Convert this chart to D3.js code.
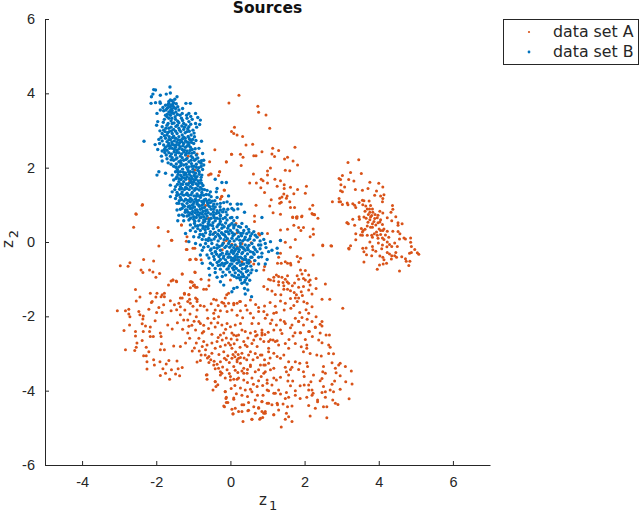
<!DOCTYPE html>
<html>
<head>
<meta charset="utf-8">
<script src="https://cdn.jsdelivr.net/npm/d3@7"></script>
<style>
  html, body { margin: 0; padding: 0; background: #fff; }
  svg { display: block; font-family: "DejaVu Sans", sans-serif; }
  .tick text { font-size: 14.5px; fill: #262626; }
</style>
</head>
<body>
<svg id="chart" width="640" height="515"></svg>
<script>
// Tick labels
const xTicks = [-4, -2, 0, 2, 4, 6];
const yTicks = [-6, -4, -2, 0, 2, 4, 6];

// Legend entries
const seriesNames = ['data set A', 'data set B'];
const seriesColors = ['#D95319', '#0072BD'];

// Points, [z1, z2]
const clusterRight = [[3.46,2.21],[3.17,2.14],[3.24,1.87],[3.53,1.84],[3.02,1.79],[2.93,1.71],[2.97,1.68],[3.19,1.68],[3.33,1.64],[3.76,1.61],[4.0,1.58],[2.98,1.54],[3.08,1.48],[4.11,1.48],[3.37,1.41],[3.56,1.39],[3.71,1.44],[2.97,1.38],[3.02,1.35],[3.94,1.37],[4.14,1.27],[3.89,1.26],[4.05,1.24],[4.11,1.17],[4.10,1.08],[2.75,1.08],[2.93,1.17],[2.93,1.08],[2.97,1.08],[3.02,1.01],[3.15,1.05],[3.17,1.0],[3.30,1.03],[3.35,0.99],[3.38,0.93],[3.47,1.06],[3.56,1.12],[3.6,1.11],[3.57,1.0],[3.65,0.97],[3.74,1.1],[3.78,0.98],[3.69,0.89],[3.75,0.89],[3.83,0.89],[3.76,0.8],[3.84,0.8],[4.03,0.83],[4.11,0.78],[3.98,0.72],[3.9,0.74],[4.37,0.98],[4.38,0.88],[4.33,0.8],[4.46,0.68],[4.35,0.57],[4.23,0.65],[3.47,0.68],[3.48,0.61],[3.6,0.67],[3.66,0.64],[3.78,0.67],[3.76,0.6],[3.87,0.55],[3.96,0.65],[4.05,0.6],[4.03,0.54],[3.3,0.61],[3.15,0.52],[3.18,0.49],[3.35,0.45],[3.53,0.36],[3.58,0.31],[3.63,0.34],[3.56,0.27],[3.78,0.4],[3.83,0.4],[3.92,0.46],[3.98,0.52],[4.1,0.47],[4.14,0.35],[4.01,0.35],[4.05,0.31],[4.11,0.31],[4.23,0.29],[4.38,0.29],[4.52,0.52],[4.52,0.45],[4.63,0.49],[4.52,0.28],[4.57,0.22],[4.56,0.08],[4.68,0.11],[4.72,0.08],[4.86,0.11],[4.86,-0.01],[4.88,-0.12],[4.97,-0.2],[5.04,-0.29],[5.08,-0.33],[4.88,-0.28],[4.83,-0.3],[3.38,0.22],[3.38,0.06],[3.51,0.19],[3.56,0.18],[3.69,0.18],[3.81,0.18],[3.83,0.13],[3.96,0.18],[3.98,0.1],[4.1,0.11],[4.14,0.07],[3.76,0.0],[3.99,-0.03],[4.1,-0.08],[4.23,0.0],[4.29,-0.07],[4.35,-0.12],[4.43,-0.03],[4.5,-0.12],[3.24,-0.1],[3.2,-0.19],[3.57,-0.17],[3.6,-0.26],[3.66,-0.16],[3.83,-0.12],[3.84,-0.21],[3.92,-0.25],[3.67,-0.34],[3.81,-0.37],[4.03,-0.38],[4.11,-0.41],[4.14,-0.48],[4.23,-0.28],[4.29,-0.32],[4.35,-0.37],[4.46,-0.28],[4.43,-0.37],[4.48,-0.41],[4.34,-0.46],[4.62,-0.4],[4.72,-0.45],[4.74,-0.52],[4.84,-0.52],[3.6,-0.54],[4.12,-0.59],[4.02,-0.62],[4.21,-0.57],[3.96,-0.73],[4.56,-0.78],[4.81,-0.63],[2.49,-0.1],[2.73,-0.11]];

const clusterUpper = [[0.23,3.95],[-0.04,3.74],[0.74,3.65],[0.76,3.49],[0.96,3.42],[0.11,3.09],[1.06,3.06],[0.03,2.97],[0.09,2.92],[0.18,2.88],[0.33,2.84],[0.42,2.61],[0.6,2.63],[-0.42,2.48],[1.14,2.52],[1.3,2.46],[0.85,2.43],[1.74,2.55],[0.03,2.36],[0.27,2.36],[0.34,2.28],[0.63,2.32],[0.69,2.32],[1.12,2.37],[1.19,2.30],[1.46,2.23],[1.54,2.28],[1.69,2.18],[1.81,2.07],[-0.11,2.15],[0.29,2.06],[1.08,1.99],[1.48,1.93],[1.6,1.92],[1.0,1.91],[1.0,1.8],[0.62,1.83],[-0.29,1.89],[-0.32,1.79],[-0.52,1.83],[0.83,1.69],[0.88,1.65],[1.2,1.69],[1.35,1.65],[0.52,1.59],[0.7,1.59],[1.0,1.59],[1.45,1.54],[1.26,1.5],[1.62,1.47],[1.45,1.44],[2.05,1.5],[0.82,1.46],[1.81,1.41],[0.92,1.33],[1.71,1.3],[2.02,1.31],[1.44,1.29],[1.53,1.24],[1.39,1.21],[1.51,1.18],[1.33,1.18],[1.1,1.14],[1.6,1.08],[1.37,1.07],[1.33,1.04],[0.69,0.99],[1.06,0.97],[2.22,0.99],[1.62,0.93],[1.73,0.93],[2.14,0.89],[1.15,0.79],[1.35,0.75],[2.2,0.77],[2.26,0.74],[2.36,0.64],[1.68,0.67],[1.78,0.67],[1.79,0.64],[1.92,0.68],[0.65,0.7],[0.65,0.55],[-0.16,1.39],[-0.23,1.23],[-0.27,1.16],[-0.56,2.16],[-0.9,2.37],[-1.14,2.31],[-0.96,1.94],[-0.59,1.8],[-0.54,1.83],[-0.29,1.89],[-1.1,1.65],[-0.17,1.4],[-0.24,1.22],[-0.67,0.98],[-0.59,0.64],[-2.38,0.99],[-2.54,0.75],[-0.11,2.16],[0.03,2.36]];

const clusterMiddle = [[1.68,0.66],[1.8,0.68],[1.93,0.7],[2.22,0.75],[2.27,0.73],[1.35,0.32],[1.54,0.34],[1.71,0.45],[1.84,0.39],[1.97,0.39],[1.9,0.31],[2.23,0.35],[2.15,0.14],[2.24,0.21],[2.49,-0.08],[2.71,-0.1],[3.19,-0.17],[1.75,0.07],[1.48,-0.01],[1.62,-0.14],[1.35,0.05],[2.23,-0.35],[3.14,0.52],[1.0,0.23],[0.76,0.23],[0.79,0.19],[0.56,-0.02],[-0.11,0.04],[-0.18,-0.02],[0.18,0.25],[-0.43,0.25],[-0.59,0.62],[0.15,0.50],[-0.22,-0.21],[0.04,-0.06],[0.18,-0.13],[0.31,-0.04],[0.18,-0.47],[0.31,-0.53],[0.54,-0.53],[0.65,-0.5],[0.63,-0.59],[-1.32,0.46],[-1.59,0.05],[-1.17,0.14],[-1.19,-0.2],[-0.96,-0.17],[-1.1,-0.48],[-0.94,-0.46],[-0.79,-0.48],[0.92,-0.66],[0.9,-0.75],[1.35,-0.3],[1.3,-0.41],[1.27,-0.57],[1.48,-0.53],[1.54,-0.57],[1.62,-0.57],[1.8,-0.39],[1.89,-0.44],[1.84,-0.53],[1.63,-0.62],[1.37,-0.57],[1.89,-0.75],[2.02,-0.77],[1.93,-0.86],[1.8,-0.91],[1.84,-1.0],[1.97,-0.98],[2.11,-0.89],[2.15,-1.02],[2.11,-1.07],[2.02,-1.02],[2.31,-0.98],[2.56,-1.13],[1.08,-1.02],[1.17,-0.95],[1.24,-0.89],[1.3,-0.93],[1.39,-0.95],[1.48,-1.0],[1.54,-0.91],[1.53,-1.07],[1.42,-1.09],[1.3,-1.07],[1.17,-1.04],[1.03,-1.0],[0.9,-1.2],[1.0,-1.27],[1.3,-1.16],[1.44,-1.18],[1.57,-1.11],[1.44,-1.27],[1.54,-1.27],[1.62,-1.31],[1.72,-1.36],[1.78,-1.42],[1.84,-1.51],[1.75,-1.51],[1.8,-1.6],[1.84,-1.22],[1.97,-1.2],[2.15,-1.16],[2.11,-1.29],[2.2,-1.4],[2.31,-1.25],[2.47,-1.54],[2.68,-1.54],[3.03,-1.78],[2.07,-1.65],[2.2,-1.74],[1.35,-1.59],[1.48,-1.65],[1.63,-1.78],[1.45,-1.83],[1.24,-1.9],[1.87,-1.9],[2.11,-1.92],[2.31,-2.01],[2.47,-2.14],[1.75,-2.05],[1.84,-2.14],[1.97,-2.23],[2.2,-2.14],[2.29,-2.29],[2.11,-2.41],[2.42,-2.45],[1.89,-2.44],[1.48,-2.19],[1.35,-2.1],[0.99,-1.96],[0.76,-1.76],[0.54,-1.56],[-1.55,-1.02],[-1.46,-1.05],[-1.3,-0.86],[-0.96,-0.81],[-1.08,-1.07],[-1.03,-1.08],[-0.79,-1.0],[-0.58,-1.02],[-1.0,-1.18],[-0.94,-1.22],[-0.72,-1.27],[-0.65,-1.27],[-0.58,-1.18],[-0.1,-1.42],[-0.05,-1.38],[0.0,-1.02],[0.25,-1.6],[0.18,-1.65],[0.09,-1.65],[-0.45,-1.54],[-0.38,-1.56],[-0.18,-1.65],[-0.14,-1.72],[-1.24,-1.4],[-1.35,-1.51],[-1.1,-1.54],[-0.9,-1.54]];

const clusterLeft = [[-2.37,1.01],[-2.55,0.76],[-2.61,0.4],[-1.95,0.39],[-1.68,0.28],[-1.58,0.05],[-1.93,-0.11],[-2.34,-0.47],[-2.07,-0.51],[-2.71,-0.56],[-2.76,-0.65],[-2.97,-0.64],[-2.41,-0.75],[-2.36,-0.82],[-2.18,-0.75],[-2.09,-0.81],[-1.91,-0.85],[-2.01,-0.95],[-1.3,-0.86],[-0.95,-0.82],[-1.55,-1.02],[-1.6,-1.05],[-1.45,-1.07],[-1.67,-1.16],[-1.06,-1.07],[-1.08,-1.23],[-0.97,-1.16],[-0.9,-1.22],[-2.56,-1.28],[-2.16,-1.38],[-1.98,-1.38],[-2.44,-1.48],[-2.54,-1.59],[-2.01,-1.48],[-1.87,-1.47],[-1.78,-1.38],[-1.78,-1.47],[-1.24,-1.38],[-1.12,-1.41],[-2.11,-1.6],[-2.13,-1.63],[-1.32,0.46],[-1.19,0.02],[-1.01,-0.17],[-1.17,-0.2],[-1.08,-0.47],[-0.92,-0.47]];

const clusterLower = [[-3.05,-1.85],[-2.83,-1.85],[-2.74,-1.81],[-2.74,-1.94],[-2.71,-2.01],[-2.47,-1.87],[-2.44,-1.96],[-2.35,-1.99],[-2.2,-1.81],[-1.84,-1.42],[-1.93,-1.76],[-1.8,-1.69],[-1.99,-1.9],[-1.84,-1.9],[-1.6,-1.85],[-1.51,-1.69],[-1.39,-1.65],[-1.35,-1.74],[-1.3,-1.51],[-1.24,-1.4],[-1.12,-1.42],[-1.15,-1.6],[-1.08,-1.65],[-0.94,-1.51],[-0.9,-1.6],[-1.35,-1.96],[-1.26,-2.1],[-1.15,-2.1],[-0.9,-1.83],[-0.92,-2.01],[-0.85,-2.14],[-0.81,-2.19],[-0.63,-1.83],[-0.61,-2.05],[-0.45,-1.92],[-0.41,-1.83],[-0.27,-1.85],[-0.32,-2.01],[-0.14,-1.51],[-0.05,-1.65],[0.09,-1.69],[0.27,-1.6],[-0.09,-1.87],[0.04,-1.83],[0.27,-1.85],[0.45,-1.83],[0.54,-1.92],[0.76,-1.87],[0.9,-1.87],[1.17,-1.92],[0.94,-2.05],[1.12,-2.1],[-0.09,-2.19],[0,-2.28],[0.13,-2.23],[0.27,-2.19],[0.4,-2.41],[0.58,-2.19],[0.76,-2.19],[0.85,-2.37],[0.67,-2.41],[0.54,-2.45],[-0.27,-2.5],[-0.18,-2.45],[0.04,-2.45],[0.22,-2.5],[-2.87,-2.38],[-2.72,-2.23],[-2.56,-2.41],[-2.56,-2.53],[-2.38,-2.2],[-2.35,-2.41],[-2.29,-2.26],[-2.16,-2.29],[-2.18,-2.41],[-2.16,-2.54],[-2.08,-2.54],[-1.89,-2.45],[-1.87,-2.54],[-1.86,-2.74],[-2.52,-2.72],[-2.38,-2.65],[-2.54,-2.83],[-2.83,-2.9],[-2.58,-2.92],[-2.27,-2.83],[-2.2,-2.95],[-2.34,-3.06],[-2.27,-3.06],[-1.89,-2.9],[-1.78,-2.9],[-1.69,-2.23],[-1.57,-2.34],[-1.29,-2.35],[-1.15,-2.45],[-0.94,-2.37],[-1.1,-2.59],[-1.21,-2.72],[-1.35,-2.81],[-1.53,-2.8],[-1.03,-2.93],[-0.85,-2.59],[-0.76,-2.45],[-0.72,-2.68],[-0.76,-2.81],[-0.67,-2.9],[-0.63,-2.77],[-0.5,-2.72],[-0.36,-2.68],[-0.41,-2.86],[-0.58,-3.08],[-0.5,-2.99],[-0.27,-2.81],[-0.14,-2.77],[-0.05,-2.72],[-0.18,-2.95],[0.04,-2.86],[0.18,-2.63],[0.36,-2.68],[0.45,-2.81],[0.31,-2.99],[0.54,-2.95],[0.72,-2.81],[0.9,-2.68],[1.08,-2.63],[1.21,-2.68],[1.3,-2.77],[1.03,-2.86],[0.81,-3.04],[1.17,-2.99],[1.26,-3.08],[-2.07,-3.17],[-2.25,-3.22],[-1.9,-3.22],[-2.05,-3.31],[-1.66,-3.19],[-1.73,-3.28],[-1.44,-3.2],[-1.82,-3.41],[-1.59,-3.44],[-1.41,-3.41],[-1.3,-3.38],[-2.25,-3.42],[-1.89,-3.59],[-1.75,-3.53],[-1.48,-3.55],[-1.37,-3.6],[-1.64,-3.69],[-0.9,-3.23],[-0.81,-3.19],[-0.58,-3.24],[-0.45,-3.31],[-0.32,-3.4],[-0.41,-3.41],[-0.63,-3.57],[-0.63,-3.69],[-0.41,-3.75],[-0.47,-3.98],[-0.34,-3.84],[-0.23,-3.53],[-0.14,-3.66],[-0.09,-3.44],[-0.27,-3.22],[-0.11,-3.17],[0.04,-3.13],[0.18,-3.17],[0.27,-3.26],[0.09,-3.35],[0.36,-3.4],[0.54,-3.31],[0.67,-3.49],[0.81,-3.31],[0.94,-3.31],[1.08,-3.44],[0.9,-3.53],[0.09,-3.69],[0.22,-3.66],[0,-3.71],[0.45,-3.53],[0.58,-3.66],[0.76,-3.73],[0.99,-3.71],[1.17,-3.66],[-0.14,-4.02],[-0.11,-4.18],[0.09,-4.2],[-0.07,-4.32],[-0.16,-4.43],[0.04,-4.5],[0.13,-4.47],[0.07,-4.62],[0.22,-4.56],[0.31,-4.38],[0.49,-4.32],[0.4,-3.98],[0.54,-3.96],[0.27,-3.93],[0.72,-3.89],[0.99,-3.98],[1.17,-4.07],[1.3,-3.98],[0.67,-4.25],[0.85,-4.29],[1.03,-4.34],[1.26,-4.34],[0.63,-4.43],[0.76,-4.47],[0.94,-4.56],[0.49,-4.53],[0.67,-4.61],[0.9,-4.61],[1.17,-4.65],[0.81,-4.74],[0.58,-4.77],[0.34,-4.83]];

const clusterLowerRight = [[1.88,-2.44],[2.13,-2.41],[2.42,-2.21],[2.47,-2.26],[2.29,-2.3],[2.58,-2.5],[2.67,-2.5],[2.38,-2.64],[2.47,-2.71],[2.65,-2.77],[2.69,-2.83],[2.06,-2.77],[1.91,-2.82],[2.06,-2.86],[1.97,-2.95],[2.15,-3.0],[2.33,-3.04],[2.65,-3.0],[2.78,-3.01],[2.45,-3.07],[2.74,-3.25],[2.96,-3.26],[3.1,-3.35],[2.92,-3.31],[3.26,-3.47],[2.08,-3.35],[2.51,-3.35],[2.83,-3.4],[2.85,-3.52],[2.96,-3.6],[1.97,-3.49],[1.99,-3.62],[2.24,-3.58],[2.49,-3.49],[2.56,-3.53],[2.47,-3.67],[2.42,-3.73],[2.81,-3.74],[2.74,-3.83],[3.11,-3.76],[3.28,-3.82],[2.17,-3.76],[1.99,-3.85],[1.88,-3.87],[1.75,-4.0],[2.11,-3.85],[2.11,-3.98],[2.2,-3.98],[2.23,-4.07],[1.75,-4.12],[1.88,-4.21],[2.06,-4.18],[2.2,-4.12],[2.51,-3.89],[2.56,-4.03],[2.69,-3.98],[2.78,-4.03],[2.96,-3.96],[2.47,-4.05],[2.56,-4.18],[2.35,-4.25],[2.35,-4.3],[2.76,-4.25],[2.83,-4.34],[2.9,-4.37],[3.2,-4.22],[2.51,-4.43],[2.6,-4.43],[2.11,-4.4],[2.29,-4.47],[2.15,-4.68],[2.6,-4.73],[1.66,-4.41],[1.54,-4.43],[1.51,-4.61],[1.57,-4.7],[1.48,-4.77],[1.66,-4.83],[1.37,-4.98],[1.17,-4.65],[1.3,-4.52],[1.27,-4.38],[1.42,-4.36],[1.48,-4.21],[1.57,-4.18],[1.35,-4.09],[1.51,-4.05],[1.62,-3.87],[1.55,-3.74],[1.68,-3.74],[1.57,-3.58],[1.51,-3.49],[1.62,-3.43],[1.84,-3.43],[1.66,-3.37],[1.48,-3.37],[1.75,-3.22],[1.87,-3.26],[2.06,-3.25],[1.57,-3.22],[1.44,-3.04],[1.35,-3.13],[1.57,-2.86],[1.75,-2.73],[1.48,-2.73],[1.69,-2.53],[1.66,-2.23],[1.84,-2.13],[1.35,-2.37],[1.39,-2.46],[1.15,-2.64],[1.26,-2.66],[1.03,-2.68],[0.85,-2.44],[0.85,-2.5],[0.72,-2.5],[1.45,-2.14],[1.08,-2.19],[0.58,-4.77],[0.79,-4.77],[0.87,-4.72],[0.94,-4.61],[0.07,-4.63],[0.31,-4.56],[0.47,-4.54],[0.76,-4.45],[0.85,-4.56],[-0.18,-4.41],[-0.11,-4.32],[0.36,-4.38],[0.85,-4.3],[0.99,-4.34],[1.12,-4.38],[0.09,-4.23],[-0.12,-4.21],[-0.14,-4.03],[-0.39,-3.89],[0.58,-4.03],[0.73,-4.12],[0.88,-4.12],[1.03,-4.0],[1.21,-4.07],[0.99,-3.8],[1.12,-3.85],[1.35,-3.64],[1.24,-3.71],[0.36,-3.71],[0.18,-3.69],[0,-3.62],[-0.27,-3.58],[-0.41,-3.76],[-0.65,-3.58],[-0.72,-2.41],[-0.5,-2.48],[0,-2.77],[0.09,-2.5],[0.4,-2.77],[0.58,-2.73],[0.9,-3.31],[0.18,-3.22],[0.22,-3.13],[-0.27,-3.49],[0.36,-3.53],[0.54,-3.35],[0.76,-3.44],[0.94,-3.49],[1.03,-3.26],[1.17,-3.4],[1.03,-2.95],[0.85,-3.04],[0.67,-3.0],[0.49,-3.04]];

// The thicker spots of set A, second look
const clusterDense = [[-0.62,-3.12],[-0.53,-3.17],[-0.44,-3.21],[-0.36,-3.29],[-0.21,-3.36],[-0.16,-3.13],[-0.03,-3.24],[0.12,-3.09],[0.21,-3.03],[0.27,-3.11],[0.14,-2.96],[0.07,-3.03],[-0.07,-3.06],[-0.31,-3.03],[-0.22,-2.64],[-0.33,-2.57],[-0.11,-2.58],[0.02,-2.61],[0.1,-2.74],[0.26,-2.83],[0.16,-2.52],[0.31,-2.37],[0.47,-2.58],[0.63,-2.64],[0.68,-2.53],[0.81,-2.61],[0.93,-2.49],[1.02,-2.43],[0.61,-3.17],[0.73,-3.11],[0.92,-3.17],[1.07,-3.12],[0.44,-3.17],[0.37,-3.12],[0.31,-3.47],[0.46,-3.43],[0.2,-3.51],[0.13,-3.45],[-0.03,-3.54],[0.62,-3.83],[0.83,-3.62],[0.87,-3.86],[0.46,-3.78],[0.12,-3.86],[0.02,-3.94],[0.31,-4.12],[0.46,-4.16],[0.16,-4.08],[-0.92,-2.72],[-0.97,-2.85],[-0.84,-2.93],[-0.79,-3.04],[-0.68,-3.04],[-1.04,-2.24],[-0.72,-2.24],[-0.59,-2.33],[-0.41,-2.29],[-0.52,-2.18],[-0.34,-2.17],[-0.23,-2.23],[-0.13,-2.35],[-0.71,-1.73],[-0.52,-1.66],[-0.33,-1.71],[-0.23,-1.62],[-0.44,-2.06],[0.62,-2.04],[0.33,-2.04],[0.18,-1.97],[0.68,-1.68],[0.41,-1.71],[1.07,-1.63],[1.21,-1.73],[0.92,-1.72],[1.12,-1.32],[1.21,-1.41],[1.36,-1.42],[1.67,-1.18],[1.73,-1.1],[1.91,-1.34],[1.94,-1.44],[1.98,-1.61],[1.62,-1.52],[1.71,-1.71],[2.04,-1.82],[1.93,-2.03],[2.07,-2.08],[1.62,-2.31],[1.74,-2.44],[2.21,-2.54],[2.02,-2.62],[1.17,-2.37],[1.24,-2.23],[1.58,-2.62],[3.63,0.83],[3.72,0.74],[3.81,0.71],[3.89,0.63],[3.71,0.53],[3.83,0.49],[3.69,0.43],[3.94,0.27],[3.88,0.22],[4.05,0.2],[4.18,0.19],[4.27,0.13],[4.08,-0.18],[4.22,-0.13],[-1.62,-1.58],[-1.45,-1.82],[-1.23,-1.83],[-1.09,-1.94],[-1.01,-1.73],[-0.81,-1.71],[-2.03,-2.12],[-2.36,-2.07],[-1.43,-2.17],[-1.12,-2.27],[-0.98,-2.13]];

const bandUpper = [[-1.63,4.17],[-2.07,4.1],[-2.02,4.09],[-2.09,3.98],[-2.13,3.91],[-1.62,4.01],[-1.73,3.98],[-1.89,3.95],[-1.44,3.91],[-2.14,3.73],[-2.02,3.75],[-1.9,3.77],[-1.89,3.73],[-1.2,3.73],[-1.08,3.73],[-1.62,3.82],[-1.57,3.8],[-1.53,3.75],[-1.66,3.73],[-1.75,3.68],[-1.82,3.62],[-1.71,3.59],[-1.62,3.64],[-1.55,3.66],[-1.48,3.59],[-1.39,3.55],[-1.29,3.59],[-1.89,3.55],[-1.8,3.53],[-1.66,3.5],[-1.57,3.53],[-1.53,3.46],[-1.98,3.46],[-1.75,3.41],[-1.62,3.41],[-1.66,3.33],[-1.48,3.3],[-1.3,3.46],[-1.12,3.46],[-0.94,3.46],[-1.32,3.33],[-1.17,3.33],[-1.03,3.3],[-0.88,3.35],[-0.81,3.28],[-0.83,3.16],[-0.94,3.19],[-1.12,3.24],[-1.26,3.19],[-1.39,3.21],[-1.57,3.19],[-1.71,3.14],[-1.84,3.1],[-1.96,3.24],[-1.99,3.14],[-1.8,3.01],[-1.66,3.06],[-1.53,3.03],[-1.39,3.06],[-1.26,3.03],[-1.12,3.1],[-1.01,3.01],[-1.84,2.92],[-1.71,2.88],[-1.57,2.92],[-1.44,2.92],[-1.3,2.88],[-1.17,2.97],[-1.06,2.88],[-1.87,2.81],[-1.75,2.79],[-1.62,2.76],[-1.48,2.79],[-1.35,2.74],[-1.22,2.79],[-1.08,2.74],[-0.97,2.83],[-0.78,2.71],[-2.33,2.71],[-2.03,2.62],[-1.93,2.76],[-1.91,2.65],[-1.8,2.61],[-1.66,2.65],[-1.53,2.61],[-1.39,2.61],[-1.26,2.65],[-1.12,2.61],[-0.99,2.65],[-1.96,2.49],[-1.84,2.45],[-1.71,2.47],[-1.57,2.52],[-1.44,2.47],[-1.3,2.49],[-1.17,2.45],[-1.03,2.49],[-0.85,2.52],[-1.86,2.31],[-1.73,2.34],[-1.62,2.31],[-1.48,2.34],[-1.35,2.31],[-1.21,2.34],[-1.06,2.31],[-0.92,2.34],[-0.75,2.38],[-1.84,2.18],[-1.68,2.13],[-1.53,2.2],[-1.39,2.16],[-1.26,2.2],[-1.12,2.16],[-0.97,2.2],[-0.85,2.16],[-0.72,2.2],[-1.53,2.04],[-1.39,2.02],[-1.26,2.07],[-1.12,2.02],[-0.99,2.04],[-0.85,2.0],[-0.72,2.07],[-1.93,1.89],[-1.98,1.8],[-1.75,1.85],[-1.48,1.89],[-1.35,1.89],[-1.21,1.86],[-1.08,1.89],[-0.94,1.85],[-0.77,1.8],[-1.57,1.8],[-1.44,1.76],[-1.3,1.74],[-1.17,1.76],[-1.03,1.71],[-0.9,1.76],[-1.53,1.67],[-1.39,1.62],[-1.26,1.62],[-1.12,1.58],[-0.99,1.62],[-0.85,1.58],[-0.41,1.69],[-0.23,1.6],[-0.11,1.6],[-1.62,1.53],[-1.48,1.49],[-1.35,1.49],[-1.21,1.47],[-1.08,1.49],[-0.94,1.44],[-0.81,1.47],[-0.36,1.44],[-1.57,1.35],[-1.44,1.33],[-1.3,1.35],[-1.17,1.31],[-1.03,1.33],[-0.9,1.29],[-0.77,1.33],[-0.54,1.35],[-0.38,1.35],[-1.62,1.22],[-1.48,1.17],[-1.35,1.2],[-1.21,1.15],[-1.08,1.17],[-0.94,1.15],[-0.81,1.2],[-0.67,1.15],[-0.52,1.22],[-0.36,1.2],[-0.05,1.24],[-1.44,1.04],[-1.3,1.02],[-1.17,1.04],[-1.03,0.99],[-0.9,1.02],[-0.77,0.99],[-0.61,1.04],[-0.45,1.02],[-0.27,1.04],[-0.09,1.08],[0.2,1.02],[-1.35,0.88],[-1.21,0.86],[-1.08,0.9],[-0.94,0.86],[-0.81,0.88],[-0.67,0.84],[-0.52,0.88],[-0.36,0.84],[-0.18,0.88],[0.04,0.9],[0.2,0.89],[-1.39,0.72],[-1.26,0.7],[-1.12,0.72],[-0.99,0.68],[-0.85,0.72],[-0.72,0.68],[-0.45,0.7],[-0.27,0.72],[0.04,0.66],[0.18,0.66],[0.38,0.8],[0.85,0.66]];

const bandLower = [[-1.39,1.04],[-1.08,1.08],[-0.9,1.06],[-0.72,1.08],[-0.54,1.06],[-0.36,1.02],[-0.18,1.06],[0,1.02],[0.18,1.02],[0.29,1.02],[-1.44,0.86],[-1.3,0.91],[-1.17,0.86],[-1.03,0.91],[-0.9,0.86],[-0.76,0.91],[-0.63,0.86],[-0.45,0.88],[-0.27,0.86],[-0.07,0.88],[0.09,0.86],[-1.42,0.57],[-1.3,0.73],[-1.17,0.7],[-1.03,0.75],[-0.9,0.73],[-0.76,0.75],[-0.63,0.7],[-0.45,0.73],[-0.27,0.7],[-0.09,0.73],[-1.26,0.57],[-1.12,0.59],[-0.99,0.61],[-0.85,0.57],[-0.72,0.59],[-0.58,0.55],[-0.41,0.57],[-0.27,0.55],[-0.09,0.59],[0.09,0.57],[-1.08,0.46],[-0.94,0.43],[-0.81,0.46],[-0.67,0.41],[-0.54,0.46],[-0.36,0.41],[-0.22,0.46],[-0.05,0.43],[0.13,0.46],[0.31,0.5],[-1.21,0.23],[-1.08,0.31],[-0.94,0.28],[-0.81,0.31],[-0.67,0.25],[-0.54,0.28],[-0.31,0.31],[-0.13,0.28],[0,0.31],[0.18,0.32],[0.36,0.31],[0.49,0.34],[0.63,0.28],[0.85,0.23],[-0.99,0.14],[-0.85,0.13],[-0.72,0.16],[-0.58,0.1],[-0.4,0.14],[-0.27,0.1],[-0.13,0.14],[0.04,0.1],[0.22,0.14],[0.4,0.13],[0.54,0.16],[0.72,0.13],[0.9,0.07],[1.08,0.01],[1.35,0.04],[-1.12,0.01],[-0.94,-0.04],[-0.81,-0.08],[-0.67,-0.04],[-0.5,-0.04],[-0.36,-0.08],[-0.2,-0.04],[-0.05,-0.04],[0.13,-0.08],[0.27,-0.04],[0.4,-0.08],[0.58,-0.04],[0.76,-0.08],[0.94,-0.04],[1.12,-0.22],[1.26,-0.17],[-0.76,-0.22],[-0.54,-0.22],[-0.4,-0.26],[-0.27,-0.22],[-0.09,-0.26],[0.04,-0.22],[0.22,-0.26],[0.4,-0.22],[0.54,-0.26],[0.72,-0.26],[0.85,-0.3],[1.03,-0.26],[1.27,-0.3],[-0.81,-0.35],[-0.63,-0.35],[-0.45,-0.39],[-0.31,-0.39],[-0.18,-0.38],[0,-0.41],[0.13,-0.39],[0.27,-0.41],[0.4,-0.39],[0.58,-0.41],[0.76,-0.41],[0.99,-0.47],[-0.76,-0.57],[-0.54,-0.57],[-0.36,-0.55],[-0.22,-0.57],[-0.09,-0.55],[0.04,-0.59],[0.18,-0.57],[0.36,-0.59],[0.49,-0.57],[0.76,-0.59],[0.94,-0.59],[-0.58,-0.71],[-0.41,-0.71],[-0.27,-0.73],[-0.09,-0.73],[0.09,-0.75],[0.22,-0.77],[0.4,-0.71],[0.58,-0.75],[0.7,-0.77],[-0.56,-0.89],[-0.36,-0.95],[-0.22,-0.93],[-0.13,-0.89],[0.04,-0.89],[0.22,-0.89],[0.36,-0.93],[0.49,-0.89],[-0.27,-1.07],[-0.18,-1.16],[0.27,-1.02],[0.4,-1.02],[0.31,-1.11],[0.45,-1.13],[0.09,-1.25],[0.38,-1.25],[0.47,-1.29],[0.04,-1.34],[0.4,-1.4],[0.57,-1.47],[0.18,-1.22]];

// Second pass over the solid parts of the band
const bandDense = [[-1.68,3.7],[-1.6,3.68],[-1.52,3.62],[-1.58,3.58],[-1.68,3.62],[-1.74,3.55],[-1.61,3.55],[-1.47,3.5],[-1.7,3.44],[-1.58,3.47],[-1.43,3.43],[-1.66,3.78],[-1.5,3.84],[-1.46,3.72],[-1.42,3.64],[-1.78,3.3],[-1.6,3.26],[-1.52,3.2],[-1.43,3.14],[-1.31,3.12],[-1.2,3.15],[-1.07,3.17],[-1.65,2.97],[-1.48,2.98],[-1.34,2.97],[-1.22,2.94],[-1.11,2.98],[-1.76,2.97],[-1.65,2.83],[-1.53,2.85],[-1.39,2.83],[-1.26,2.82],[-1.14,2.84],[-1.71,2.7],[-1.58,2.69],[-1.44,2.68],[-1.31,2.7],[-1.18,2.69],[-1.05,2.68],[-1.75,2.55],[-1.62,2.58],[-1.48,2.55],[-1.35,2.56],[-1.21,2.55],[-1.08,2.55],[-1.66,2.4],[-1.52,2.42],[-1.39,2.4],[-1.26,2.42],[-1.12,2.39],[-0.98,2.41],[-1.57,2.27],[-1.44,2.26],[-1.3,2.27],[-1.17,2.25],[-1.02,2.27],[-0.88,2.26],[-1.46,2.1],[-1.33,2.12],[-1.19,2.09],[-1.05,2.11],[-0.92,2.09],[-0.79,2.12],[-1.43,1.95],[-1.29,1.96],[-1.15,1.95],[-1.01,1.96],[-0.88,1.93],[-0.75,1.95],[-1.41,1.82],[-1.25,1.81],[-1.11,1.82],[-0.98,1.79],[-0.84,1.82],[-1.33,1.68],[-1.2,1.69],[-1.07,1.66],[-0.93,1.69],[-0.8,1.66],[-1.43,1.55],[-1.29,1.55],[-1.15,1.54],[-1.02,1.55],[-0.88,1.52],[-0.74,1.52],[-1.37,1.42],[-1.24,1.41],[-1.11,1.41],[-0.97,1.39],[-0.84,1.4],[-0.7,1.41],[-1.4,1.27],[-1.26,1.26],[-1.13,1.25],[-0.98,1.24],[-0.86,1.24],[-0.72,1.26],[-0.58,1.27],[-1.38,1.11],[-1.25,1.1],[-1.12,1.11],[-0.98,1.08],[-0.85,1.12],[-0.71,1.13],[-0.57,1.13],[-0.42,1.11],[-1.24,0.96],[-1.1,0.97],[-0.97,0.94],[-0.84,0.96],[-0.7,0.93],[-0.56,0.95],[-0.41,0.94],[-0.28,0.95],[-1.15,0.8],[-1.02,0.82],[-0.88,0.8],[-0.74,0.82],[-0.6,0.79],[-0.46,0.8],[-0.31,0.79],[-0.12,0.81],[-1.06,0.65],[-0.92,0.66],[-0.79,0.66],[-0.66,0.63],[-0.52,0.64],[-0.36,0.64],[-0.2,0.63],[0.0,0.65],[-0.97,0.5],[-0.74,0.52],[-0.6,0.49],[-0.47,0.52],[-0.29,0.49],[-0.13,0.51],[0.04,0.5],[0.22,0.42],[-0.88,0.36],[-0.74,0.37],[-0.6,0.36],[-0.46,0.36],[-0.23,0.37],[-0.07,0.37],[0.09,0.38],[0.27,0.4],[0.43,0.41],[-0.75,0.2],[-0.47,0.21],[-0.34,0.21],[-0.2,0.21],[-0.04,0.22],[0.11,0.21],[0.28,0.23],[0.44,0.22],[0.58,0.22],[-0.66,0.06],[-0.52,0.05],[-0.33,0.03],[-0.17,0.06],[-0.02,0.02],[0.1,0.03],[0.25,0.05],[0.33,0.03],[0.47,0.05],[0.64,0.05],[0.8,0.03],[-0.6,-0.12],[-0.44,-0.15],[-0.3,-0.12],[-0.15,-0.15],[-0.02,-0.14],[0.09,-0.15],[0.19,-0.17],[0.32,-0.14],[0.46,-0.15],[0.63,-0.14],[0.8,-0.18],[0.96,-0.15],[-0.5,-0.31],[-0.37,-0.33],[-0.22,-0.3],[-0.04,-0.33],[0.08,-0.31],[0.18,-0.33],[0.31,-0.31],[0.46,-0.32],[0.64,-0.33],[0.84,-0.4],[-0.43,-0.47],[-0.27,-0.47],[-0.13,-0.48],[0.03,-0.49],[0.13,-0.47],[0.22,-0.49],[0.36,-0.47],[0.5,-0.49],[0.66,-0.5],[-0.33,-0.63],[-0.18,-0.64],[-0.03,-0.65],[0.11,-0.66],[0.27,-0.63],[0.44,-0.65],[0.55,-0.65],[-0.2,-0.81],[-0.02,-0.81],[0.13,-0.83],[0.28,-0.81],[0.43,-0.8],[0.55,-0.83],[0.17,-0.96],[0.3,-0.94],[0.44,-0.96]];

// Third pass, filling the gaps between the first two
const bandFill = [[-1.55,3.72],[-1.63,3.49],[-1.71,3.37],[-1.49,3.37],[-1.58,3.33],[-1.81,3.22],[-1.68,3.19],[-1.47,3.11],[-1.6,3.09],[-1.74,3.06],[-1.9,2.99],[-1.42,3.25],[-1.29,3.27],[-1.18,3.41],[-1.07,3.38],[-1.36,3.41],[-1.24,3.09],[-1.15,3.05],[-0.91,3.09],[-0.98,2.93],[-1.37,3.01],[-1.59,2.99],[-1.69,2.94],[-1.78,2.86],[-1.56,2.81],[-1.42,2.75],[-1.29,2.78],[-1.11,2.78],[-1.02,2.76],[-1.84,2.72],[-1.66,2.75],[-1.51,2.72],[-1.37,2.67],[-1.21,2.72],[-1.13,2.67],[-0.93,2.73],[-1.69,2.59],[-1.57,2.63],[-1.46,2.61],[-1.28,2.59],[-1.16,2.59],[-1.78,2.49],[-1.64,2.52],[-1.51,2.49],[-1.38,2.51],[-1.24,2.47],[-1.09,2.46],[-0.95,2.51],[-1.77,2.41],[-1.59,2.37],[-1.45,2.41],[-1.32,2.37],[-1.19,2.38],[-1.04,2.39],[-1.71,2.24],[-1.6,2.21],[-1.47,2.23],[-1.34,2.19],[-1.2,2.22],[-1.06,2.2],[-0.93,2.23],[-0.78,2.19],[-1.6,2.09],[-1.47,2.01],[-1.34,2.06],[-1.18,2.01],[-1.04,2.04],[-0.92,2.01],[-0.79,2.03],[-1.41,1.89],[-1.27,1.88],[-1.13,1.89],[-1.0,1.88],[-0.84,1.89],[-1.47,1.71],[-1.34,1.79],[-1.2,1.82],[-1.06,1.77],[-0.94,1.75],[-0.79,1.74],[-1.39,1.7],[-1.24,1.72],[-1.11,1.71],[-0.97,1.67],[-0.87,1.64],[-1.34,1.56],[-1.19,1.56],[-1.05,1.6],[-0.93,1.57],[-0.78,1.58],[-1.5,1.41],[-1.31,1.44],[-1.17,1.44],[-1.03,1.45],[-0.9,1.43],[-0.76,1.42],[-0.63,1.39],[-1.45,1.25],[-1.32,1.29],[-1.19,1.28],[-1.06,1.27],[-0.92,1.23],[-0.79,1.26],[-0.65,1.28],[-1.32,1.14],[-1.16,1.12],[-1.03,1.13],[-0.91,1.11],[-0.77,1.09],[-0.63,1.09],[-0.49,1.1],[-1.27,0.98],[-1.14,0.95],[-1.0,1.03],[-0.86,1.0],[-0.73,1.03],[-0.6,0.99],[-0.47,0.96],[-1.22,0.8],[-1.09,0.78],[-0.95,0.79],[-0.81,0.78],[-0.67,0.76],[-0.53,0.75],[-0.38,0.77],[-0.21,0.81],[-1.09,0.63],[-0.96,0.56],[-0.82,0.65],[-0.69,0.56],[-0.56,0.61],[-0.43,0.65],[-0.29,0.62],[-0.14,0.66],[-1.01,0.38],[-0.88,0.44],[-0.74,0.43],[-0.61,0.42],[-0.48,0.44],[-0.33,0.46],[-0.17,0.41],[-0.01,0.46],[0.09,0.44],[-0.82,0.2],[-0.68,0.33],[-0.55,0.2],[-0.41,0.26],[-0.24,0.25],[-0.08,0.28],[0.05,0.25],[0.21,0.27],[0.34,0.24],[0.5,0.27],[-0.76,0.07],[-0.6,0.04],[-0.44,0.08],[-0.3,0.16],[-0.16,0.19],[-0.08,0.09],[0.07,0.17],[0.17,0.08],[0.3,0.17],[0.38,0.07],[0.52,0.09],[0.67,0.18],[-0.72,-0.14],[-0.52,-0.19],[-0.36,-0.17],[-0.23,-0.09],[-0.11,-0.11],[0.03,-0.09],[0.14,-0.2],[0.27,-0.12],[0.36,-0.18],[0.5,-0.09],[0.67,-0.2],[0.82,-0.08],[-0.58,-0.43],[-0.41,-0.27],[-0.27,-0.34],[-0.11,-0.32],[0.02,-0.27],[0.11,-0.25],[0.24,-0.21],[0.33,-0.28],[0.48,-0.21],[0.61,-0.28],[-0.48,-0.62],[-0.31,-0.52],[-0.19,-0.43],[-0.06,-0.41],[0.07,-0.44],[0.2,-0.41],[0.31,-0.44],[0.42,-0.47],[0.55,-0.41],[-0.41,-0.82],[-0.27,-0.62],[-0.14,-0.58],[0.0,-0.6],[0.09,-0.51],[0.24,-0.54],[0.31,-0.6],[0.45,-0.55],[-0.06,-0.72],[0.06,-0.7],[0.16,-0.71],[0.32,-0.72],[0.47,-0.77],[0.1,-0.92],[0.24,-0.97],[0.33,-0.86],[0.38,-1.08],[0.52,-1.03]];

const setA = [...clusterRight, ...clusterUpper, ...clusterMiddle, ...clusterLeft, ...clusterLower, ...clusterLowerRight, ...clusterDense];
const setB = [...bandUpper, ...bandLower, ...bandDense, ...bandFill];

const svg = d3.select('#chart');
const ink = '#262626';

const x = d3.scaleLinear().domain([-5, 7]).range([45, 490]);
const y = d3.scaleLinear().domain([-6, 6]).range([465, 19]);

// Axes, ticks point inward and there is no box
const xAxis = d3.axisBottom(x).tickValues(xTicks).tickSizeInner(-4).tickSizeOuter(0).tickPadding(12).tickFormat(d3.format('d'));
const yAxis = d3.axisLeft(y).tickValues(yTicks).tickSizeInner(-4).tickSizeOuter(0).tickPadding(10).tickFormat(d3.format('d'));

const gx = svg.append('g').attr('transform', 'translate(0,465)').call(xAxis);
const gy = svg.append('g').attr('transform', 'translate(45,0)').call(yAxis);
[gx, gy].forEach(g => {
  g.selectAll('.domain, .tick line').attr('stroke', ink).attr('stroke-width', 1);
  g.selectAll('.tick text').text(function() { return this.textContent.replace('\u2212', '-'); });
});

// Scatter, A first so B sits on top
svg.append('g').selectAll('circle').data(setA).join('circle')
  .attr('cx', d => x(d[0])).attr('cy', d => y(d[1])).attr('r', 1.5).attr('fill', seriesColors[0]);
svg.append('g').selectAll('circle').data(setB).join('circle')
  .attr('cx', d => x(d[0])).attr('cy', d => y(d[1])).attr('r', 1.7).attr('fill', seriesColors[1]);

// Title and axis labels
svg.append('text').attr('x', 267.5).attr('y', 12.5).attr('text-anchor', 'middle')
  .attr('font-size', 15.5).attr('font-weight', 'bold').attr('fill', '#111').text('Sources');

const xLabel = svg.append('text').attr('x', 259).attr('y', 505).attr('font-size', 15).attr('fill', ink);
xLabel.append('tspan').text('z');
xLabel.append('tspan').attr('dx', 2).attr('dy', 5).attr('font-size', 13).text('1');

const yLabel = svg.append('text').attr('transform', 'translate(13,248) rotate(-90)').attr('font-size', 15).attr('fill', ink);
yLabel.append('tspan').text('z');
yLabel.append('tspan').attr('dx', 2).attr('dy', 5).attr('font-size', 13).text('2');

// Legend
const legend = svg.append('g');
legend.append('rect').attr('x', 503.5).attr('y', 19.5).attr('width', 135).attr('height', 45)
  .attr('fill', '#fff').attr('stroke', ink).attr('stroke-width', 1);
seriesNames.forEach((name, i) => {
  const rowY = 32 + i * 20;
  legend.append('circle').attr('cx', 529).attr('cy', rowY).attr('r', 1.1 + i * 0.3).attr('fill', seriesColors[i]);
  legend.append('text').attr('x', 553).attr('y', rowY + 5).attr('font-size', 15.8).attr('fill', ink).text(name);
});
</script>
</body>
</html>
